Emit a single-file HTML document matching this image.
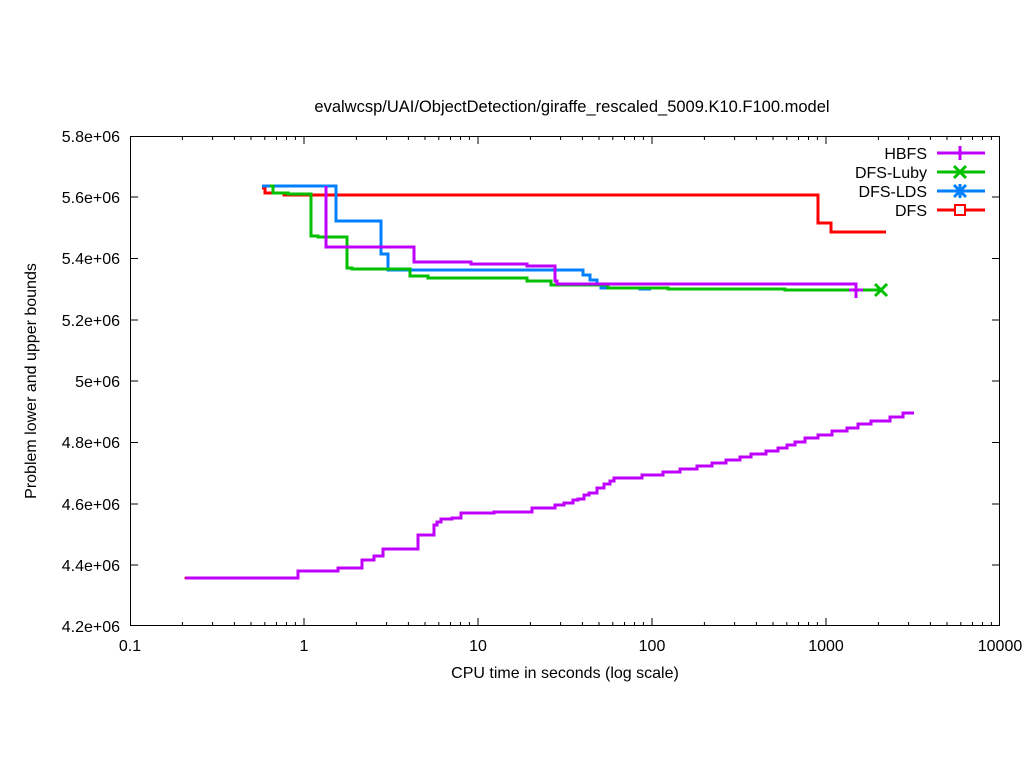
<!DOCTYPE html>
<html><head><style>body{margin:0;background:#fff}svg{display:block}text{font-family:"Liberation Sans",sans-serif;font-size:16px;fill:#000}</style></head><body>
<svg width="1024" height="768" xmlns="http://www.w3.org/2000/svg">
<rect width="1024" height="768" fill="#fff"/>
<text x="572" y="112" text-anchor="middle" style="font-size:16.5px">evalwcsp/UAI/ObjectDetection/giraffe_rescaled_5009.K10.F100.model</text>
<g stroke="#000" stroke-width="1" fill="none">
<rect x="130.5" y="136.5" width="869" height="489"/>
<path d="M130 197h8M1000 197h-8M130 258.5h8M1000 258.5h-8M130 320h8M1000 320h-8M130 381h8M1000 381h-8M130 442.5h8M1000 442.5h-8M130 504h8M1000 504h-8M130 565h8M1000 565h-8"/>
<path d="M304 626v-8M304 136v8M478 626v-8M478 136v8M652 626v-8M652 136v8M826 626v-8M826 136v8"/>
<path d="M182.4 626v-4M212.6 626v-4M234.4 626v-4M251 626v-4M264.8 626v-4M276.5 626v-4M286.5 626v-4M295.4 626v-4M356.4 626v-4M386.6 626v-4M408.4 626v-4M425 626v-4M438.8 626v-4M450.5 626v-4M460.5 626v-4M469.4 626v-4M530.4 626v-4M560.6 626v-4M582.4 626v-4M599 626v-4M612.8 626v-4M624.5 626v-4M634.5 626v-4M643.4 626v-4M704.4 626v-4M734.6 626v-4M756.4 626v-4M773 626v-4M786.8 626v-4M798.5 626v-4M808.5 626v-4M817.4 626v-4M878.4 626v-4M908.6 626v-4M930.4 626v-4M947 626v-4M960.8 626v-4M972.5 626v-4M982.5 626v-4M991.4 626v-4"/>
<path d="M182.4 136v4M212.6 136v4M234.4 136v4M251 136v4M264.8 136v4M276.5 136v4M286.5 136v4M295.4 136v4M356.4 136v4M386.6 136v4M408.4 136v4M425 136v4M438.8 136v4M450.5 136v4M460.5 136v4M469.4 136v4M530.4 136v4M560.6 136v4M582.4 136v4M599 136v4M612.8 136v4M624.5 136v4M634.5 136v4M643.4 136v4M704.4 136v4M734.6 136v4M756.4 136v4M773 136v4M786.8 136v4M798.5 136v4M808.5 136v4M817.4 136v4M878.4 136v4M908.6 136v4M930.4 136v4M947 136v4M960.8 136v4M972.5 136v4M982.5 136v4M991.4 136v4"/>
</g>
<g text-anchor="end">
<text x="120" y="142">5.8e+06</text><text x="120" y="203">5.6e+06</text><text x="120" y="264">5.4e+06</text><text x="120" y="326">5.2e+06</text><text x="120" y="387">5e+06</text><text x="120" y="448">4.8e+06</text><text x="120" y="510">4.6e+06</text><text x="120" y="571">4.4e+06</text><text x="120" y="632">4.2e+06</text>
</g>
<g text-anchor="middle">
<text x="130" y="651">0.1</text><text x="304" y="651">1</text><text x="478" y="651">10</text><text x="652" y="651">100</text><text x="826" y="651">1000</text><text x="1000" y="651">10000</text>
<text x="565" y="678">CPU time in seconds (log scale)</text>
<text transform="translate(36,381) rotate(-90)">Problem lower and upper bounds</text>
</g>
<g fill="none" stroke-width="3" stroke-linejoin="miter">
<path stroke="#ff0000" d="M262 188H265V193H284V195H818V223H831V232H886"/>
<path stroke="#0080ff" d="M262 186H336V221H381V254H388V270H583V275H590V280H597V284H601V288H640V289H651"/>
<path stroke="#00c000" d="M270 186H273V193H288V194H311V236H318V237H347V268H352V269H410V276H428V278H527V281H551V285H608V288H668V289H785V290H880"/>
<path stroke="#c000ff" d="M326 186V247H414V262H471V264H527V266H555V281H557V284H856V296"/>
<path stroke="#c000ff" d="M185 578H298V571H338V568H362V560H374V556H383V549H418V535H434V525H437V522H441V519H452V518H461V513H494V512H532V508H555V505H564V503H573V500H578V499H584V495H589V493H597V488H604V484H610V481H614V478H642V475H663V472H680V469H697V466H712V463H726V460H740V457H751V454H766V451H778V448H787V445H795V442H805V438H818V435H832V431H847V428H858V424H871V421H890V417H903V413H914"/>
<path stroke="#c000ff" d="M856 284v14M849 290h14"/>
<path stroke="#00c000" d="M875 284l12 12M887 284l-12 12"/>
<path stroke="#ff0000" stroke-width="1" d="M185 577v2"/>
</g>
<g text-anchor="end">
<text x="927" y="159">HBFS</text><text x="927" y="178">DFS-Luby</text><text x="927" y="197">DFS-LDS</text><text x="927" y="216">DFS</text>
</g>
<g fill="none" stroke-width="3">
<path stroke="#c000ff" d="M937 153H985M960 146v14"/>
<path stroke="#00c000" d="M937 172H985M954 166l12 12M966 166l-12 12"/>
<path stroke="#0080ff" d="M937 191H985M954 185l12 12M966 185l-12 12M960 184v14"/>
<path stroke="#ff0000" d="M937 210H985"/>
<rect x="955" y="205" width="10" height="10" stroke="#ff0000" fill="#fff" stroke-width="2"/>
</g>
</svg>
</body></html>
